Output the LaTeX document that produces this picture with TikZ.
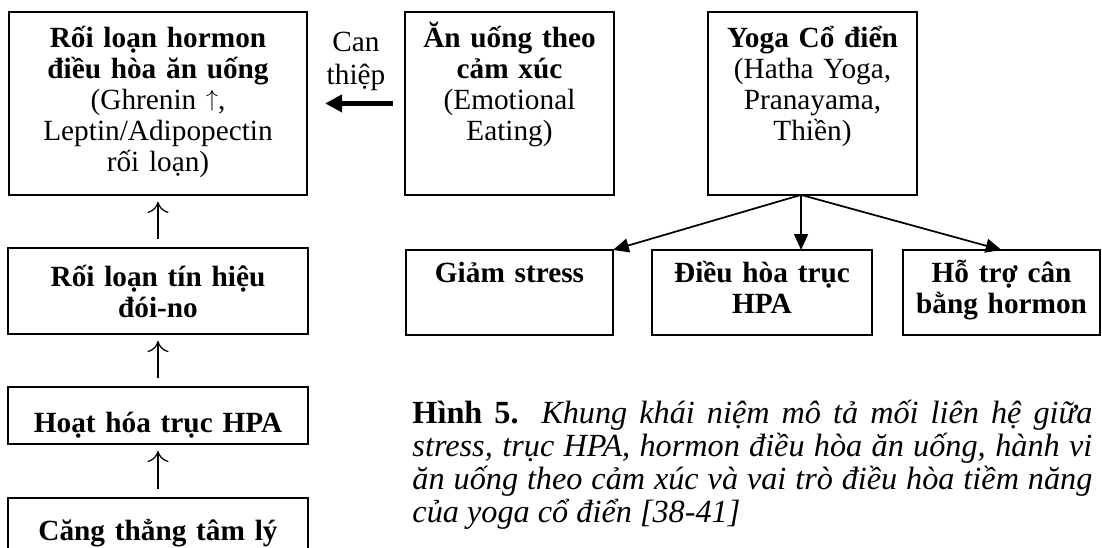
\documentclass[tikz,border=0pt]{standalone}
\usepackage{fontspec}
\setmainfont{Liberation Serif}
\usetikzlibrary{positioning, arrows.meta}

\newcommand{\boxfont}{\fontsize{11.8}{12.5}\selectfont}
\newcommand{\capfont}{\fontsize{13}{13.4}\selectfont}
\newcommand{\upsym}{\raisebox{1.5pt}{\scalebox{0.8}{$\uparrow$}}}

\begin{document}
\begin{tikzpicture}[
        x=0.403pt, y=-0.403pt,
        box/.style={
            draw, line width=0.8pt, inner sep=0pt, outer sep=0pt,
            align=center, font=\boxfont
        },
        toprow/.style={text height=14.4pt, text depth=59.3pt},
        midrow/.style={text height=13.3pt, text depth=21pt},
        uparr/.style={-{To[length=4.5pt, width=8.5pt]}, line width=0.5pt,
            shorten <=3.6pt, shorten >=2.8pt},
        yarr/.style={-{Triangle[length=6.4pt, width=5.6pt]}, line width=0.7pt},
        bigarr/.style={-{Triangle[length=6.8pt, width=6.8pt]}, line width=2.2pt,
            shorten <=4.8pt, shorten >=7.3pt}
    ]
    \clip (0,0) rectangle (1102,547);

    % cot trai
    \node[box, toprow, text width=120.1pt, anchor=north west] (hormon) at (9,12)
        {\textbf{Rối loạn hormon}\\\textbf{điều hòa ăn uống}\\(Ghrenin \upsym,\\Leptin/Adipopectin\\rối loạn)};
    \node[box, text width=120.9pt, text height=15.6pt, text depth=19.1pt,
          below=21.4pt of hormon] (tinhieu)
        {\textbf{Rối loạn tín hiệu}\\\textbf{đói-no}};
    \node[box, text width=120.9pt, text height=18.1pt, text depth=4.8pt,
          below=21.4pt of tinhieu] (hoathoa) {\textbf{Hoạt hóa trục HPA}};
    \node[box, text width=120.9pt, text height=16.9pt, text depth=6.4pt,
          below=21.8pt of hoathoa] (cangthang) {\textbf{Căng thẳng tâm lý}};

    \draw[uparr] (tinhieu) -- (hormon);
    \draw[uparr] (hoathoa) -- (tinhieu);
    \draw[uparr] (cangthang) -- (hoathoa);

    % hang tren
    \node[box, toprow, text width=84.2pt, right=39.5pt of hormon] (anuong)
        {\textbf{Ăn uống theo}\\\textbf{cảm xúc}\\(Emotional\\Eating)};
    \node[box, toprow, text width=84.2pt, right=37.9pt of anuong] (yoga)
        {\textbf{Yoga Cổ điển}\\(Hatha Yoga,\\Pranayama,\\Thiền)};

    \draw[bigarr] (anuong.west) -- (hormon.east);
    \node[font=\fontsize{11.8}{13.6}\selectfont, text width=40pt, align=center,
          inner sep=0pt, anchor=base] (canthiep) at (356,51) {Can\\thiệp};

    % tac dong cua yoga
    \node[box, midrow, text width=83.4pt, below=22.2pt of anuong] (giam)
        {\textbf{Giảm stress}};
    \node[box, midrow, text width=88.7pt, right=15.7pt of giam] (dieuhoa)
        {\textbf{Điều hòa trục}\\\textbf{HPA}};
    \node[box, midrow, text width=79.4pt, right=12.5pt of dieuhoa] (hotro)
        {\textbf{Hỗ trợ cân}\\\textbf{bằng hormon}};

    \coordinate (fork) at ([xshift=-4.6pt]yoga.south);
    \draw[yarr] (fork) -- (giam.north east);
    \draw[yarr] (fork) -- (fork |- dieuhoa.north);
    \draw[yarr] (fork) -- (hotro.north);

    \node[font=\capfont, text width=274pt, align=justify, inner sep=0pt,
          anchor=base west] (hinh5) at (412,423)
        {\textbf{Hình 5.} \textit{Khung khái niệm mô tả mối liên hệ giữa\linebreak
         stress, trục HPA, hormon điều hòa ăn uống, hành vi\linebreak
         ăn uống theo cảm xúc và vai trò điều hòa tiềm năng\linebreak
         của yoga cổ điển [38-41]}};
\end{tikzpicture}
\end{document}
